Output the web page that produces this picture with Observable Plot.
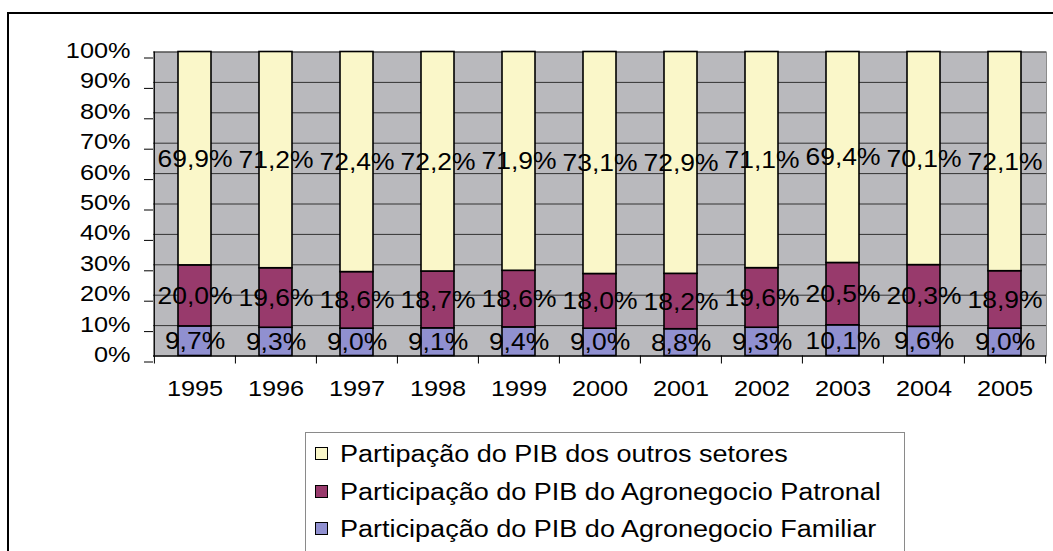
<!DOCTYPE html>
<html>
<head>
<meta charset="utf-8">
<script src="https://cdn.jsdelivr.net/npm/d3@7"></script>
<script src="https://cdn.jsdelivr.net/npm/@observablehq/plot@0.6"></script>
<style>
  html, body { margin: 0; padding: 0; background: #fff; }
  #wrap { position: relative; width: 1053px; height: 551px; overflow: hidden; background: #fff;
          font-family: "Liberation Sans", Arial, sans-serif; }
  #frame { position: absolute; left: 7px; top: 12px; width: 1200px; height: 700px;
           border: 2px solid #000; box-sizing: border-box; }
  #chart { position: absolute; left: 0; top: 0; }
  #legend { position: absolute; left: 305px; top: 432px; width: 600px; height: 200px;
            border: 1.5px solid #8a8a8a; box-sizing: border-box; background: #fff; }
  .row { position: absolute; left: 0; height: 30px; display: flex; align-items: center; }
  .sw { position: absolute; left: 9px; width: 11px; height: 11px; border: 1px solid #000; }
  .lab { position: absolute; left: 34px; white-space: nowrap; font-size: 23.5px; color: #000;
         transform: scaleX(1.15); transform-origin: left center; line-height: 30px; }
</style>
</head>
<body>
<div id="wrap">
  <div id="frame"></div>
  <div id="chart"></div>
  <div id="legend"></div>
</div>
<script>
// ---- data ----
const years = ["1995","1996","1997","1998","1999","2000","2001","2002","2003","2004","2005"];
const familiar = [9.7, 9.3, 9.0, 9.1, 9.4, 9.0, 8.8, 9.3, 10.1, 9.6, 9.0];
const patronal = [20.0, 19.6, 18.6, 18.7, 18.6, 18.0, 18.2, 19.6, 20.5, 20.3, 18.9];
const outros   = [69.9, 71.2, 72.4, 72.2, 71.9, 73.1, 72.9, 71.1, 69.4, 70.1, 72.1];
const seriesNames = [
  "Participação do PIB do Agronegocio Familiar",
  "Participação do PIB do Agronegocio Patronal",
  "Partipação do PIB dos outros setores"
];
const seriesColors = ["#9090d0", "#983a6c", "#faf7c9"];
const yTicks = [0, 0.1, 0.2, 0.3, 0.4, 0.5, 0.6, 0.7, 0.8, 0.9, 1.0];
const legendOrder = [2, 1, 0];

// ---- table ----
const seriesValues = [familiar, patronal, outros];
const rows = years.flatMap((yr, i) =>
  seriesNames.map((s, k) => ({year: yr, series: s, value: seriesValues[k][i]})));

const W = 1053, H = 420, ML = 153, MR = 7, MT = 51.5, MB = 64.5;
const step = (W - ML - MR) / years.length;
const fmt = v => d3.format(".1f")(v).replace(".", ",") + "%";
const S = 1.15; // horizontal stretch of the reference's text

const chart = Plot.plot({
  width: W, height: H,
  marginLeft: ML, marginRight: MR, marginTop: MT, marginBottom: MB,
  style: {fontFamily: "'Liberation Sans', Arial, sans-serif", fontSize: "22px", color: "#000", background: "transparent", overflow: "visible"},
  x: {domain: years, paddingInner: 0.594, paddingOuter: 0.297, align: 0.5, label: null},
  y: {domain: [0, 1], label: null},
  color: {domain: seriesNames, range: seriesColors},
  marks: [
    Plot.frame({fill: "#b9b9bd", stroke: "#8c8c8c"}),
    Plot.ruleY(yTicks, {stroke: "#333", strokeWidth: 1}),
    Plot.barY(rows, Plot.stackY({x: "year", y: "value", z: "series", fill: "series", offset: "normalize", order: null,
      stroke: "#000", strokeWidth: 1.6})),
    Plot.ruleX([years[0]], {dx: -step / 2, stroke: "#000", strokeWidth: 1}),
    Plot.ruleY([0], {stroke: "#000", strokeWidth: 1}),
    Plot.axisY({ticks: yTicks, tickSize: 9, tickPadding: 14, dy: 6, tickFormat: d => Math.round(d * 100) + "%", label: null, stroke: "#000"}),
    Plot.axisX({tickSize: 0, tickPadding: 40, label: null}),
    Plot.axisX({tickSize: 8, tickFormat: () => "", label: null, dx: -step / 2, stroke: "#000"}),
    Plot.axisX([years[years.length - 1]], {tickSize: 8, tickFormat: () => "", label: null, dx: step / 2, stroke: "#000"}),
    Plot.text(rows, Plot.stackY({x: "year", y: "value", z: "series", offset: "normalize", order: null,
      text: d => fmt(d.value), fontSize: 23, dy: 8, fill: "#000"}))
  ]
});

// stretch text horizontally around its anchor, like the reference
chart.querySelectorAll("text").forEach(t => {
  const x = +t.getAttribute("x") || 0;
  const y = +t.getAttribute("y") || 0;
  const tr = t.getAttribute("transform") || "";
  t.removeAttribute("x"); t.removeAttribute("y");
  t.setAttribute("transform", `${tr} translate(${x},${y}) scale(${S},1)`);
});
document.getElementById("chart").appendChild(chart);

// ---- legend ----
const leg = document.getElementById("legend");
legendOrder.forEach((k, j) => {
  const row = document.createElement("div");
  row.className = "row";
  row.style.top = (6 + 37.5 * j) + "px";
  const sw = document.createElement("div");
  sw.className = "sw";
  sw.style.background = seriesColors[k];
  sw.style.top = "8px";
  const lab = document.createElement("div");
  lab.className = "lab";
  lab.textContent = seriesNames[k];
  row.appendChild(sw); row.appendChild(lab);
  leg.appendChild(row);
});
</script>
</body>
</html>
